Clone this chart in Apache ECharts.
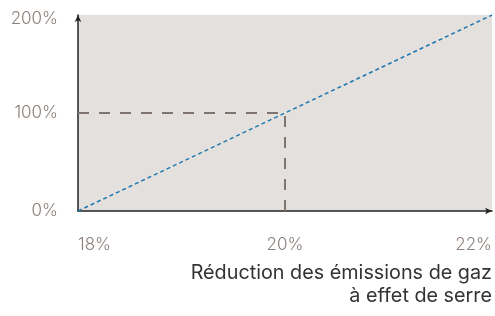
<!DOCTYPE html>
<html>
<head>
<meta charset="utf-8">
<script src="https://cdn.jsdelivr.net/npm/echarts@6/dist/echarts.min.js"></script>
<style>
  html, body { margin: 0; padding: 0; background: #fff; }
  #chart { width: 495px; height: 316px; }
</style>
</head>
<body>
<div id="chart"></div>
<script>
// réduction GES (%) -> coût relatif (%)
var lineX = [18, 22];
var lineY = [0, 200];
// repère à 20% / 100%
var refX = [18, 20, 20];
var refY = [100, 100, 0];
var xTitle = ['Réduction des émissions de gaz', 'à effet de serre'];

var myChart = echarts.init(document.getElementById('chart'));
var fontName = 'Inter';

myChart.setOption({
  animation: false,
  grid: {
    left: 78, right: 3, top: 15, bottom: 105,
    show: true,
    backgroundColor: '#e4e0dd',
    borderWidth: 0
  },
  xAxis: {
    type: 'value',
    min: 18, max: 22, interval: 2,
    splitLine: { show: false },
    axisTick: { show: false },
    axisLine: {
      lineStyle: { color: '#222', width: 1.5 },
      symbol: ['none', 'arrow'],
      symbolSize: [5, 7]
    },
    axisLabel: {
      formatter: '{value}%',
      color: '#8c817c',
      fontFamily: fontName,
      fontWeight: 300,
      fontSize: 17,
      margin: 25,
      alignMinLabel: 'left',
      alignMaxLabel: 'right'
    }
  },
  yAxis: {
    type: 'value',
    min: 0, max: 200, interval: 100,
    splitLine: { show: false },
    axisTick: { show: false },
    axisLine: {
      show: true,
      lineStyle: { color: '#222', width: 1.5 },
      symbol: ['none', 'arrow'],
      symbolSize: [5, 7]
    },
    axisLabel: {
      formatter: '{value}%',
      color: '#8c817c',
      fontFamily: fontName,
      fontWeight: 300,
      fontSize: 17,
      lineHeight: 8,
      margin: 20,
      verticalAlignMaxLabel: 'top'
    }
  },
  graphic: [
    {
      type: 'text', right: 3, top: 263,
      style: { text: xTitle[0], fill: '#333', font: '19.8px Inter', textAlign: 'right' }
    },
    {
      type: 'text', right: 3, top: 286,
      style: { text: xTitle[1], fill: '#333', font: '19.8px Inter', textAlign: 'right' }
    }
  ],
  series: [
    {
      type: 'line',
      data: refX.map(function (x, i) { return [x, refY[i]]; }),
      symbol: 'none',
      lineStyle: { color: '#7f7570', width: 2, type: [11, 10] },
      z: 2
    },
    {
      type: 'line',
      data: lineX.map(function (x, i) { return [x, lineY[i]]; }),
      symbol: 'none',
      lineStyle: { color: '#1f78b0', width: 1.5, type: [4, 3] },
      z: 3
    }
  ]
});
</script>
</body>
</html>
